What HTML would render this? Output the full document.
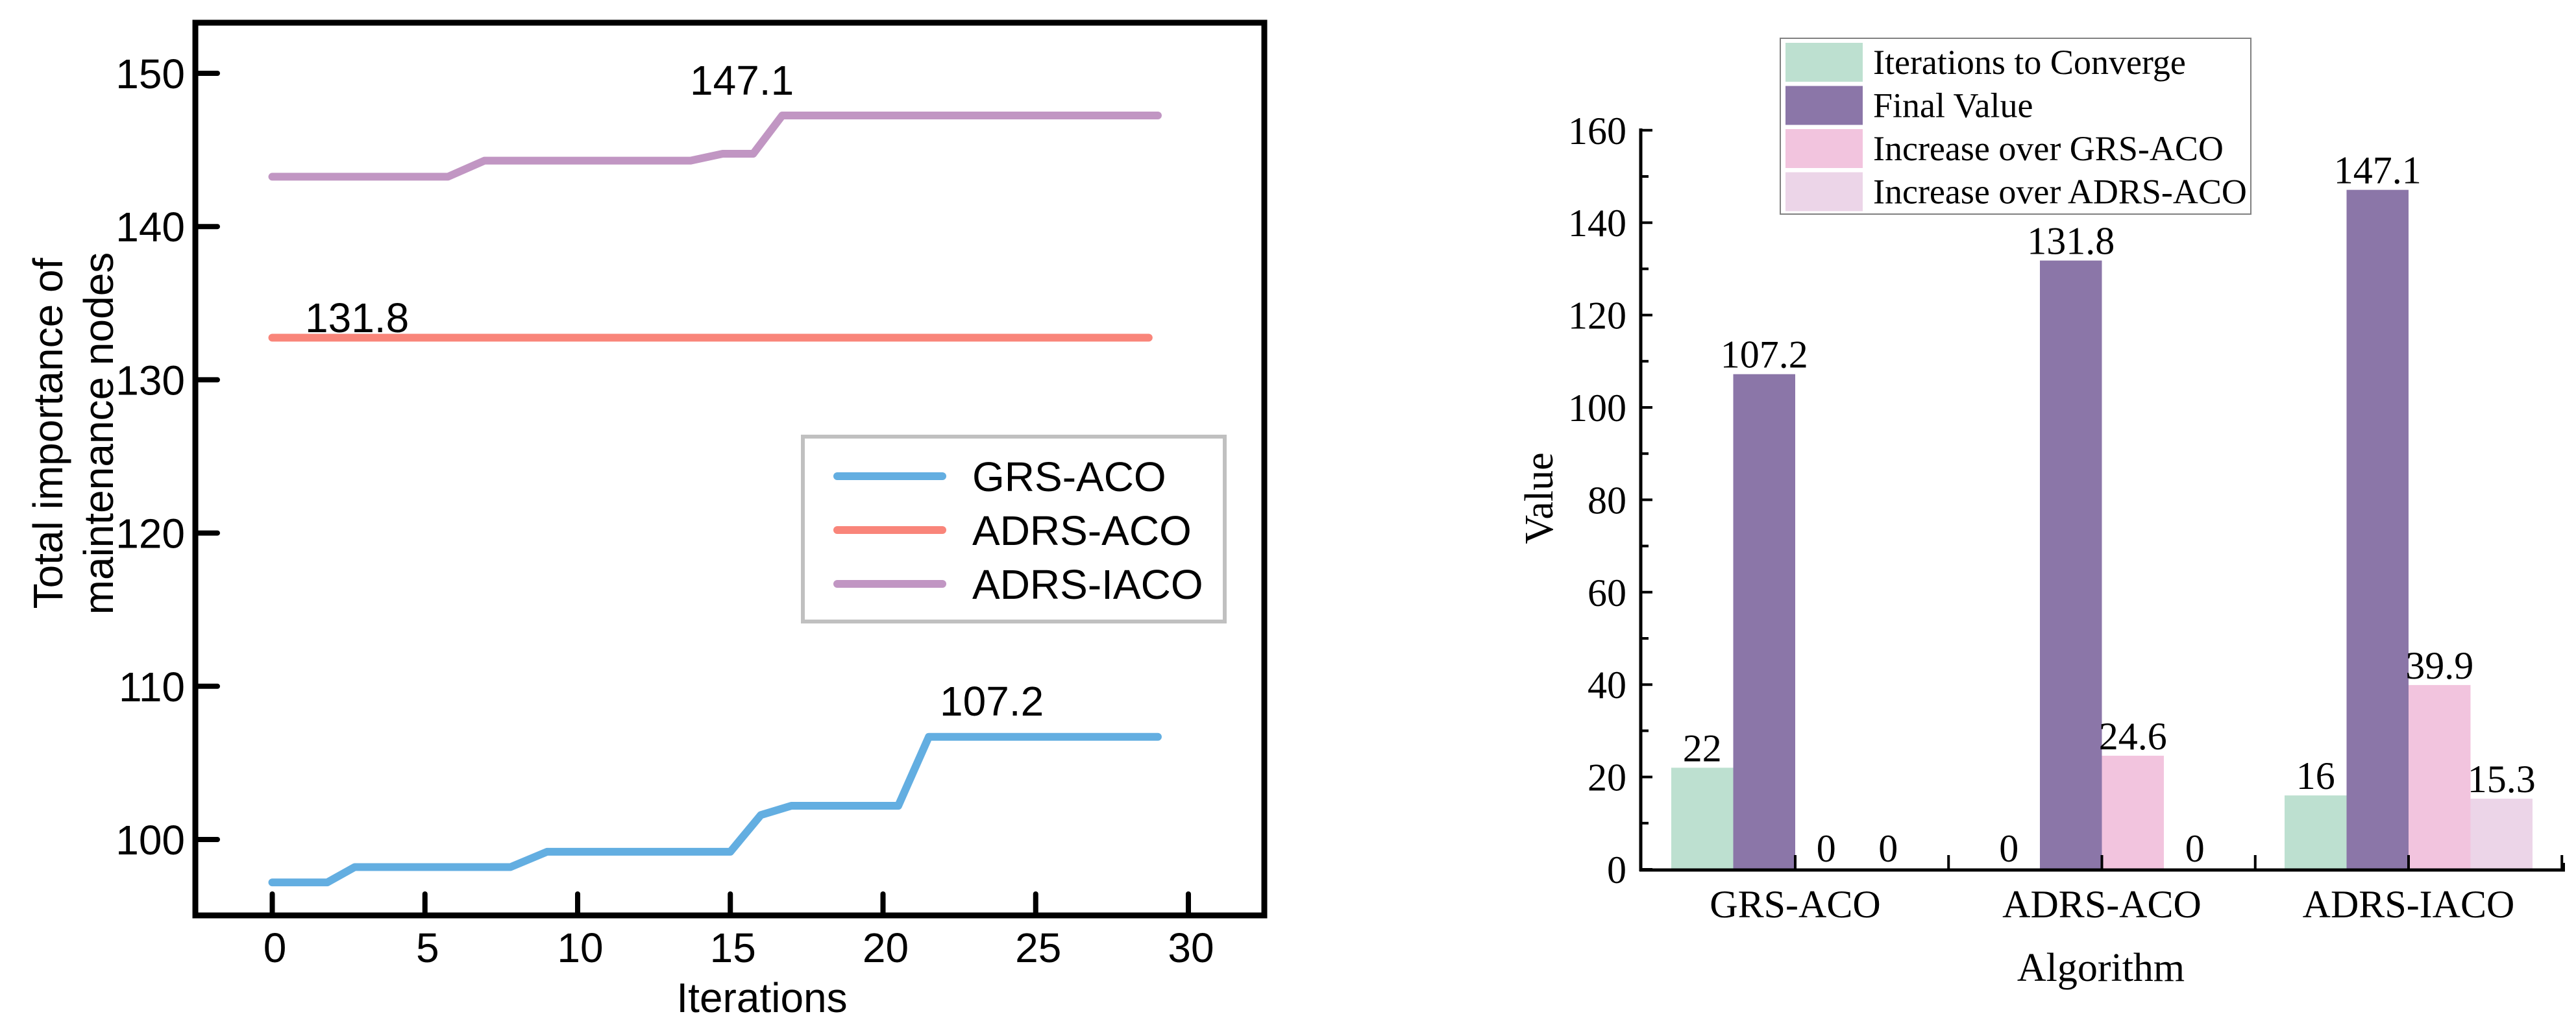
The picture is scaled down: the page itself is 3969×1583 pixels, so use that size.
<!DOCTYPE html>
<html><head><meta charset="utf-8">
<style>
html,body{margin:0;padding:0;background:#fff;}
svg{display:block;}
</style></head>
<body>
<svg id="fig" width="3969" height="1583" viewBox="0 0 3969 1583" xmlns="http://www.w3.org/2000/svg">
  <g id="left"></g>
  <g id="right"></g>
</svg>
<script>
// ---------- Left chart data ----------
const lineXTicks = [0, 5, 10, 15, 20, 25, 30];
const lineYTicks = [100, 110, 120, 130, 140, 150];
const grsX = [0, 1.8, 2.7, 7.8, 9, 15, 16, 17, 20.5, 21.5, 29];
const grsY = [97.2, 97.2, 98.2, 98.2, 99.2, 99.2, 101.6, 102.2, 102.2, 106.7, 106.7];
const adrsX = [0, 28.7];
const adrsY = [132.75, 132.75];
const iacoX = [0, 5.75, 6.95, 13.7, 14.75, 15.75, 16.7, 29];
const iacoY = [143.25, 143.25, 144.3, 144.3, 144.75, 144.75, 147.25, 147.25];
const lineSeriesNames = ["GRS-ACO", "ADRS-ACO", "ADRS-IACO"];
const lineAnnotations = ["131.8", "147.1", "107.2"];

// ---------- Right chart data ----------
const categories = ["GRS-ACO", "ADRS-ACO", "ADRS-IACO"];
const barSeriesNames = ["Iterations to Converge", "Final Value", "Increase over GRS-ACO", "Increase over ADRS-ACO"];
const itersToConverge = [22, 0, 16];
const finalValue = [107.2, 131.8, 147.1];
const incOverGRS = [0, 24.6, 39.9];
const incOverADRS = [0, 0, 15.3];
const barYTicks = [0, 20, 40, 60, 80, 100, 120, 140, 160];

const NS = "http://www.w3.org/2000/svg";
function mk(parent, tag, attrs, text) {
  const e = document.createElementNS(NS, tag);
  for (const k in attrs) e.setAttribute(k, attrs[k]);
  if (text !== undefined) e.textContent = text;
  parent.appendChild(e);
  return e;
}

// ===== LEFT CHART =====
const L = document.getElementById('left');
const lx = v => 419.5 + v * 47.05;
const ly = v => 1294 - (v - 100) * 23.62;
const SANS = '"Liberation Sans", "DejaVu Sans", sans-serif';

let e;
e = mk(L, 'rect', {x: 301, y: 35, width: 1647, height: 1376, fill: 'none', stroke: '#000', 'stroke-width': 9});



lineYTicks.forEach(t => {
  e = mk(L, 'line', {x1: 301, x2: 335, y1: ly(t), y2: ly(t), stroke: '#000', 'stroke-width': 8, 'stroke-linecap': 'round'});
  
  
  e = mk(L, 'text', {x: 285, y: ly(t) + 23, 'text-anchor': 'end', 'font-family': SANS, 'font-size': 64}, String(t));
  
  
});
lineXTicks.forEach(t => {
  e = mk(L, 'line', {x1: lx(t), x2: lx(t), y1: 1411, y2: 1378, stroke: '#000', 'stroke-width': 8, 'stroke-linecap': 'round'});
  
  
  e = mk(L, 'text', {x: lx(t) + 4, y: 1483, 'text-anchor': 'middle', 'font-family': SANS, 'font-size': 64}, String(t));
  
  
});
e = mk(L, 'text', {x: 1174, y: 1560, 'text-anchor': 'middle', 'font-family': SANS, 'font-size': 64}, 'Iterations');


e = mk(L, 'text', {transform: 'translate(96,668) rotate(-90)', 'text-anchor': 'middle', 'font-family': SANS, 'font-size': 64}, 'Total importance of');


e = mk(L, 'text', {transform: 'translate(174,668) rotate(-90)', 'text-anchor': 'middle', 'font-family': SANS, 'font-size': 64}, 'maintenance nodes');



const lineColors = ['#63aee1', '#f9857a', '#c196c3'];
const lineXs = [grsX, adrsX, iacoX];
const lineYs = [grsY, adrsY, iacoY];
lineXs.forEach((xs, i) => {
  const pts = xs.map((x, j) => lx(x) + ',' + ly(lineYs[i][j])).join(' ');
  e = mk(L, 'polyline', {points: pts, fill: 'none', stroke: lineColors[i], 'stroke-width': 12, 'stroke-linejoin': 'round', 'stroke-linecap': 'round'});
  
  
});
// annotations
e = mk(L, 'text', {x: 470, y: 512, 'font-family': SANS, 'font-size': 64}, lineAnnotations[0]);


e = mk(L, 'text', {x: 1063, y: 146, 'font-family': SANS, 'font-size': 64}, lineAnnotations[1]);


e = mk(L, 'text', {x: 1448, y: 1103, 'font-family': SANS, 'font-size': 64}, lineAnnotations[2]);



// legend
const lg = mk(L, 'g', {});


e = mk(lg, 'rect', {x: 1237, y: 673, width: 650, height: 285, fill: '#fff', stroke: '#c0c0c0', 'stroke-width': 6});


lineSeriesNames.forEach((n, i) => {
  const y = 734 + i * 83;
  e = mk(lg, 'line', {x1: 1290, x2: 1452, y1: y, y2: y, stroke: lineColors[i], 'stroke-width': 12, 'stroke-linecap': 'round'});
  
  
  e = mk(lg, 'text', {x: 1498, y: y + 23, 'font-family': SANS, 'font-size': 64}, n);
  
  
});

// ===== RIGHT CHART =====
const R = document.getElementById('right');
const SERIF = '"Liberation Serif", "DejaVu Serif", serif';
const by = v => 1340 - v * 7.12;
const catX = i => 2766 + i * 472.5;
const BW = 95.5;
const barColors = ['#bde0d0', '#8b76a8', '#f2c4de', '#ecd5e8'];
const barSeries = [itersToConverge, finalValue, incOverGRS, incOverADRS];

barSeries.forEach((vals, s) => {
  vals.forEach((v, i) => {
    const x0 = catX(i) + (s - 2) * BW;
    if (v > 0) {
      e = mk(R, 'rect', {x: x0, y: by(v), width: BW, height: by(0) - by(v), fill: barColors[s]});
      
      
    }
    const ty = v > 0 ? by(v) - 10 : 1328;
    e = mk(R, 'text', {x: x0 + BW / 2, y: ty, 'text-anchor': 'middle', 'font-family': SERIF, 'font-size': 60}, String(v));
    
    
  });
});

// axes
e = mk(R, 'line', {x1: 2528, x2: 2528, y1: 198, y2: 1343, stroke: '#000', 'stroke-width': 5});


e = mk(R, 'line', {x1: 2526, x2: 3952, y1: 1341, y2: 1341, stroke: '#000', 'stroke-width': 5});


barYTicks.forEach(t => {
  e = mk(R, 'line', {x1: 2528, x2: 2546, y1: by(t), y2: by(t), stroke: '#000', 'stroke-width': 4});
  
  
  if (t < 160) {
    e = mk(R, 'line', {x1: 2528, x2: 2540, y1: by(t + 10), y2: by(t + 10), stroke: '#000', 'stroke-width': 4});
    
    
  }
  e = mk(R, 'text', {x: 2506, y: by(t) + 21, 'text-anchor': 'end', 'font-family': SERIF, 'font-size': 60}, String(t));
  
  
});
for (let k = 0; k <= 5; k++) {
  const x = 2766 + k * 236.25;
  e = mk(R, 'line', {x1: x, x2: x, y1: 1341, y2: 1318, stroke: '#000', 'stroke-width': 4});
  
  
}
e = mk(R, 'line', {x1: 3950, x2: 3950, y1: 1341, y2: 1330, stroke: '#000', 'stroke-width': 4});


categories.forEach((c, i) => {
  e = mk(R, 'text', {x: catX(i), y: 1414, 'text-anchor': 'middle', 'font-family': SERIF, 'font-size': 60}, c);
  
  
});
e = mk(R, 'text', {x: 3237, y: 1512, 'text-anchor': 'middle', 'font-family': SERIF, 'font-size': 62}, 'Algorithm');


e = mk(R, 'text', {transform: 'translate(2392,768) rotate(-90)', 'text-anchor': 'middle', 'font-family': SERIF, 'font-size': 62}, 'Value');



// legend
const rg = mk(R, 'g', {});


e = mk(rg, 'rect', {x: 2743, y: 59, width: 725, height: 271, fill: '#fff', stroke: '#808080', 'stroke-width': 2});


barSeriesNames.forEach((n, i) => {
  const y = 66 + i * 66.5;
  e = mk(rg, 'rect', {x: 2751, y: y, width: 119, height: 60, fill: barColors[i]});
  
  
  e = mk(rg, 'text', {x: 2886, y: y + 48, 'font-family': SERIF, 'font-size': 54}, n);
  
  
});
</script>
</body></html>
